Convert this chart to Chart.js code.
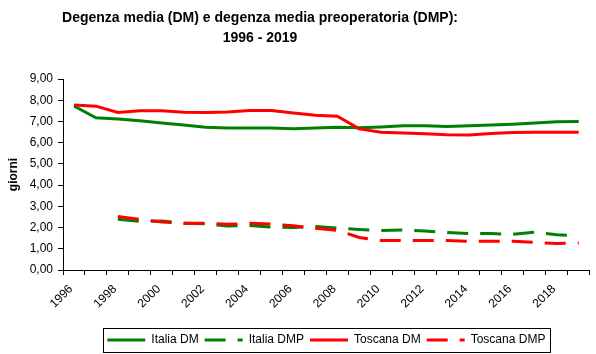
<!DOCTYPE html>
<html>
<head>
<meta charset="utf-8">
<script src="https://cdn.jsdelivr.net/npm/chart.js@4.4.1/dist/chart.umd.min.js"></script>
<style>
html,body{margin:0;padding:0;background:#fff;}
#wrap{width:596px;height:354px;position:relative;}
</style>
</head>
<body>
<div id="wrap"><canvas id="c" width="596" height="354"></canvas></div>
<script>
const years = ['1996','1997','1998','1999','2000','2001','2002','2003','2004','2005','2006','2007','2008','2009','2010','2011','2012','2013','2014','2015','2016','2017','2018','2019'];
const italiaDM   = [7.73,7.17,7.11,7.03,6.93,6.83,6.73,6.69,6.69,6.69,6.65,6.69,6.73,6.70,6.74,6.80,6.80,6.76,6.80,6.83,6.87,6.93,6.99,7.00];
const italiaDMP  = [null,null,2.39,2.29,2.31,2.20,2.18,2.07,2.10,2.02,2.00,2.05,1.97,1.91,1.86,1.88,1.84,1.77,1.72,1.72,1.68,1.78,1.66,1.61];
const toscanaDM  = [7.78,7.72,7.42,7.50,7.50,7.43,7.42,7.44,7.52,7.52,7.40,7.29,7.25,6.65,6.49,6.46,6.42,6.37,6.36,6.43,6.48,6.49,6.49,6.49];
const toscanaDMP = [null,null,2.52,2.39,2.26,2.20,2.20,2.15,2.20,2.16,2.08,1.97,1.87,1.53,1.39,1.39,1.39,1.39,1.35,1.35,1.35,1.30,1.25,1.27];
const titleLines = ['Degenza media (DM) e degenza media preoperatoria (DMP):','1996 - 2019'];
const yTitle = 'giorni';

const GREEN = '#008000', RED = '#FF0000';
const FONT = '"Liberation Sans", Arial, sans-serif';

const titlePlugin = {
  id: 'titlePlugin',
  afterDraw(chart) {
    const ctx = chart.ctx;
    ctx.save();
    ctx.font = 'bold 14px ' + FONT;
    ctx.fillStyle = '#000';
    ctx.textAlign = 'center';
    ctx.textBaseline = 'alphabetic';
    ctx.fillText(titleLines[0], 260, 21.5);
    ctx.fillText(titleLines[1], 260, 41.5);
    ctx.restore();
  }
};
const legendBorder = {
  id: 'legendBorder',
  afterDraw(chart) {
    const boxes = chart.legend && chart.legend.legendHitBoxes;
    if (!boxes || !boxes.length) return;
    let l = Infinity, r = -Infinity, cy = 0;
    boxes.forEach(b => { l = Math.min(l, b.left); r = Math.max(r, b.left + b.width); cy = b.top + b.height / 2; });
    const ctx = chart.ctx;
    ctx.save();
    ctx.strokeStyle = '#000';
    ctx.lineWidth = 1;
    ctx.strokeRect(Math.round(l - 4) + 0.5, Math.round(cy - 12) + 0.5, Math.round(r - l + 9), 24);
    ctx.restore();
  }
};

new Chart(document.getElementById('c'), {
  type: 'line',
  data: {
    labels: years,
    datasets: [
      {label: 'Italia DM', data: italiaDM, borderColor: GREEN, backgroundColor: GREEN, borderWidth: 3, pointRadius: 0, tension: 0, order: 4},
      {label: 'Italia DMP', data: italiaDMP, borderColor: GREEN, backgroundColor: GREEN, borderWidth: 3, borderDash: [21, 12], pointRadius: 0, tension: 0, order: 3},
      {label: 'Toscana DM', data: toscanaDM, borderColor: RED, backgroundColor: RED, borderWidth: 3, pointRadius: 0, tension: 0, order: 2},
      {label: 'Toscana DMP', data: toscanaDMP, borderColor: RED, backgroundColor: RED, borderWidth: 3, borderDash: [21, 12], pointRadius: 0, tension: 0, order: 1}
    ]
  },
  options: {
    responsive: false,
    animation: false,
    devicePixelRatio: 1,
    layout: {padding: {top: 79, right: 5, left: 0, bottom: -2}},
    plugins: {
      title: {display: false},
      tooltip: {enabled: false},
      legend: {
        position: 'bottom',
        fullSize: false,
        labels: {
          usePointStyle: true,
          pointStyle: 'line',
          pointStyleWidth: 38,
          padding: 6,
          color: '#000',
          font: {family: FONT, size: 12},
          sort: (a, b) => a.datasetIndex - b.datasetIndex,
          generateLabels: chart => Chart.defaults.plugins.legend.labels.generateLabels(chart).map(item => {
            const ds = chart.data.datasets[item.datasetIndex];
            item.lineDash = ds.borderDash || [];
            item.lineDashOffset = 0;
            item.lineWidth = ds.borderWidth;
            item.strokeStyle = ds.borderColor;
            item.fillStyle = ds.borderColor;
            item.pointStyle = 'line';
            return item;
          })
        }
      }
    },
    scales: {
      x: {
        offset: true,
        grid: {offset: true, drawOnChartArea: false, drawTicks: true, tickLength: 5, color: '#000'},
        border: {color: '#000', width: 1},
        ticks: {
          autoSkip: false, minRotation: 45, maxRotation: 45, color: '#000', labelOffset: -3, padding: 7,
          font: {family: FONT, size: 12},
          callback: (v, i) => (i % 2 === 0 ? years[i] : '')
        },
        afterFit: s => { s.height = 58; }
      },
      y: {
        min: 0, max: 9,
        grid: {drawOnChartArea: false, drawTicks: true, tickLength: 5, color: '#000'},
        border: {color: '#000', width: 1},
        ticks: {stepSize: 1, color: '#000', padding: 5, font: {family: FONT, size: 12},
          callback: v => Number(v).toFixed(2).replace('.', ',')},
        title: {display: true, text: yTitle, color: '#000', font: {family: FONT, size: 12, weight: 'bold'}, padding: {top: 6, bottom: 0}},
        afterFit: s => { s.width = 63; }
      }
    }
  },
  plugins: [titlePlugin, legendBorder]
});
</script>
</body>
</html>
